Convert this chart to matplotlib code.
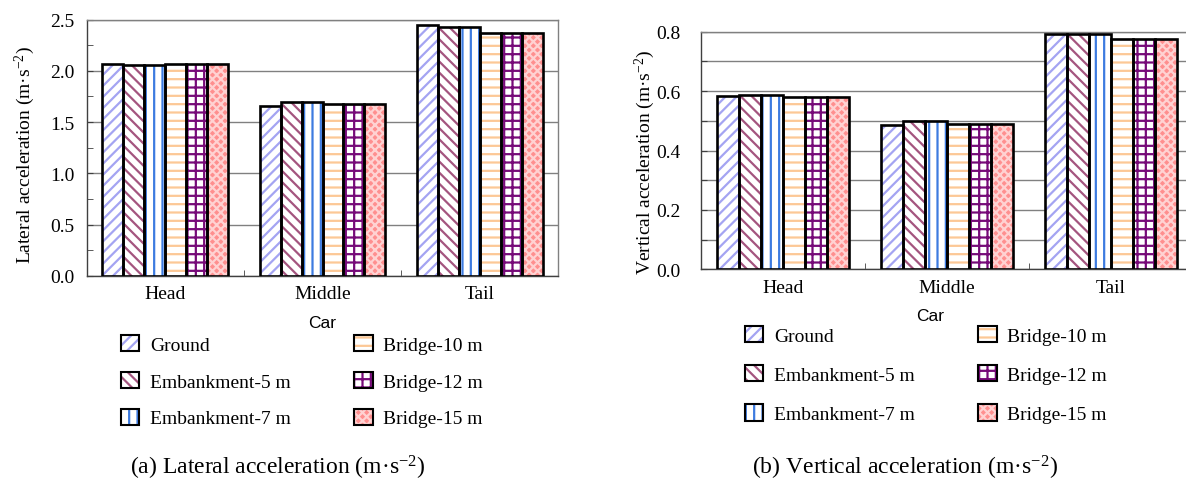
import numpy as np
import matplotlib
matplotlib.use("Agg")
import matplotlib.pyplot as plt
from matplotlib.patches import Patch
from matplotlib.ticker import MultipleLocator, FuncFormatter

# ── data ────────────────────────────────────
cars = ["Head", "Middle", "Tail"]
series = ["Ground", "Embankment-5 m", "Embankment-7 m",
          "Bridge-10 m", "Bridge-12 m", "Bridge-15 m"]

lateral_ground = [2.064, 1.654, 2.445]
lateral_emb5 = [2.057, 1.696, 2.432]
lateral_emb7 = [2.057, 1.699, 2.432]
lateral_br10 = [2.064, 1.673, 2.373]
lateral_br12 = [2.064, 1.673, 2.373]
lateral_br15 = [2.064, 1.673, 2.373]

vertical_ground = [0.585, 0.486, 0.791]
vertical_emb5 = [0.588, 0.498, 0.791]
vertical_emb7 = [0.588, 0.498, 0.791]
vertical_br10 = [0.580, 0.488, 0.775]
vertical_br12 = [0.580, 0.488, 0.775]
vertical_br15 = [0.580, 0.488, 0.775]

lateral = [lateral_ground, lateral_emb5, lateral_emb7,
           lateral_br10, lateral_br12, lateral_br15]
vertical = [vertical_ground, vertical_emb5, vertical_emb7,
            vertical_br10, vertical_br12, vertical_br15]

# (face, hatch colour, hatch)
styles = [
    ("white", "#a4a4f2", "///"),
    ("white", "#a4557f", "\\\\\\"),
    ("white", "#3d7be0", "||"),
    ("white", "#fcc896", "--"),
    ("white", "#760a78", "++"),
    ("#ff8f8f", "#ffd2d2", "xxxx"),
]

W, H = 1186, 481
plt.rcParams["font.family"] = "Liberation Serif"
plt.rcParams["mathtext.fontset"] = "custom"
plt.rcParams["mathtext.rm"] = "Liberation Serif"
plt.rcParams["mathtext.it"] = "Liberation Serif:italic"
plt.rcParams["hatch.linewidth"] = 1.6

FS = 14
GRID = "#808080"


def draw_bars(ax, data, ypad):
    x = np.arange(len(cars))
    width = 0.8 / len(series)
    for i, (vals, (face, hc, hatch)) in enumerate(zip(data, styles)):
        pos = x - 0.4 + width * (i + 0.5)
        ax.bar(pos, vals, width, color=face, edgecolor=hc, hatch=hatch,
               linewidth=0, zorder=3)
        ax.bar(pos, vals, width, fill=False, edgecolor="black",
               linewidth=1.9, zorder=4)
    ax.set_xlim(-0.5, len(cars) - 0.5)
    ax.set_xticks(x)
    ax.set_xticklabels(cars, fontsize=FS)
    ax.set_xticks([0.5, 1.5], minor=True)
    ax.tick_params(axis="x", which="major", length=0, pad=7)
    ax.tick_params(axis="x", which="minor", direction="in", length=4,
                   color="#404040")
    ax.yaxis.grid(True, color=GRID, linewidth=1.0, zorder=0)
    ax.set_axisbelow(True)
    ax.tick_params(axis="y", labelsize=FS, direction="in", length=4,
                   color="#404040", pad=ypad)
    ax.tick_params(axis="y", which="minor", direction="in", length=4,
                   color="#404040")
    for s in ["left", "bottom"]:
        ax.spines[s].set_color("#404040")
        ax.spines[s].set_linewidth(1.0)
    for s in ["top", "right"]:
        ax.spines[s].set_color(GRID)
        ax.spines[s].set_linewidth(1.0)


def add_legend(fig, x0, y0, spacing):
    handles = [(Patch(facecolor=f, edgecolor=hc, hatch=h, linewidth=0),
                Patch(fill=False, edgecolor="black", linewidth=1.5))
               for f, hc, h in styles]
    fig.legend(handles, series, loc="upper left",
               bbox_to_anchor=(x0 / W, 1 - y0 / H), ncol=2, frameon=False,
               fontsize=FS, handlelength=0.95, handleheight=0.9,
               handletextpad=0.55, columnspacing=3.25, labelspacing=spacing,
               borderpad=0, borderaxespad=0)


fig = plt.figure(figsize=(W / 100, H / 100), dpi=100)

# (a) lateral
ax1 = fig.add_axes([86.7 / W, 1 - 276.7 / H, 471.6 / W, 256 / H])
draw_bars(ax1, lateral, 9)
ax1.set_ylim(0, 2.5)
ax1.yaxis.set_major_locator(MultipleLocator(0.5))
ax1.yaxis.set_minor_locator(MultipleLocator(0.25))
ax1.yaxis.set_major_formatter(FuncFormatter(lambda v, p: f"{v:.1f}"))
fig.text(25 / W, 1 - 155 / H, r"Lateral acceleration (m·s$^{-2}$)",
         rotation=90, ha="center", va="center", fontsize=FS)
fig.text(321.7 / W, 1 - 324 / H, "Car", family="Liberation Sans",
         fontsize=12.5, ha="center", va="center")
add_legend(fig, 121, 336, 0.93)
fig.text(278 / W, 1 - 468 / H, r"(a) Lateral acceleration (m·s$^{-2}$)",
         ha="center", va="center", fontsize=17)

# (b) vertical
ax2 = fig.add_axes([701 / W, 1 - 270.3 / H, 492 / W, 237.6 / H])
draw_bars(ax2, vertical, 15)
ax2.set_ylim(0, 0.8)
ax2.yaxis.set_major_locator(MultipleLocator(0.1))
ax2.yaxis.set_major_formatter(
    FuncFormatter(lambda v, p: f"{v:.1f}" if round(v * 10) % 2 == 0 else ""))
fig.text(645 / W, 1 - 162 / H, r"Vertical acceleration (m·s$^{-2}$)",
         rotation=90, ha="center", va="center", fontsize=FS)
fig.text(930 / W, 1 - 316.7 / H, "Car", family="Liberation Sans",
         fontsize=12.5, ha="center", va="center")
add_legend(fig, 745, 327, 1.05)
fig.text(905 / W, 1 - 468 / H, r"(b) Vertical acceleration (m·s$^{-2}$)",
         ha="center", va="center", fontsize=17)

fig.savefig("out.png", dpi=100)
